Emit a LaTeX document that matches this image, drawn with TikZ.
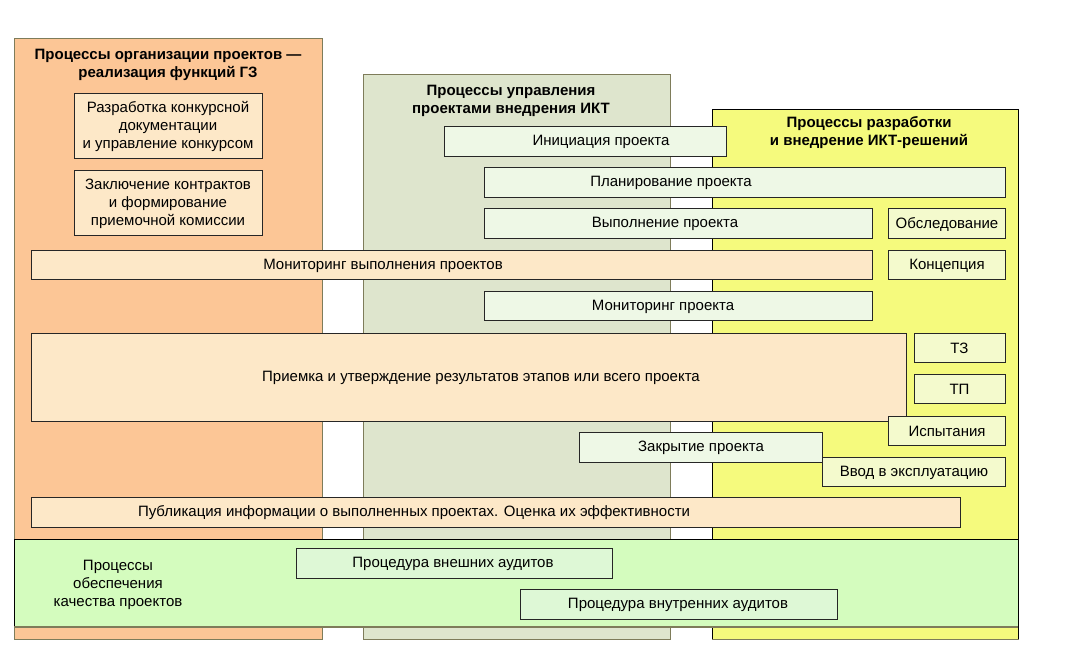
\documentclass[tikz,border=0pt]{standalone}
\usepackage{fontspec}
\setmainfont{Liberation Sans}
\definecolor{colorange}{HTML}{FCC696}
\definecolor{boxorange}{HTML}{FDE8C8}
\definecolor{colgreen}{HTML}{DEE5CD}
\definecolor{boxgreen}{HTML}{EEF8E6}
\definecolor{colyellow}{HTML}{F5FA7D}
\definecolor{boxyellow}{HTML}{F4FACD}
\definecolor{band}{HTML}{D4FCBE}
\definecolor{boxaudit}{HTML}{DEF8D6}
\definecolor{edge}{HTML}{7E7C5A}
\tikzset{
  column/.style={draw=edge,line width=1pt},
  procbox/.style={draw=black!85,line width=0.8pt},
  txt/.style={inner sep=0pt,align=center,yshift=-1pt,font=\fontsize{15}{18}\selectfont},
  title/.style={txt,font=\fontsize{15}{18}\selectfont\bfseries}
}
\begin{document}
\begin{tikzpicture}[x=1pt,y=-1pt]
\useasboundingbox (0,0) rectangle (1078,659);
% columns
\draw[column,fill=colorange] (14,38) rectangle (322,639);
\draw[column,fill=colgreen] (363,74) rectangle (670,639);
\draw[column,fill=colyellow] (712,109) rectangle (1018,639);
\draw[black,line width=0.8pt] (712,639)--(712,109)--(1018,109)--(1018,639);
% quality band
\draw[fill=band,draw=none] (14,539) rectangle (1018,627);
\draw[black,line width=0.8pt] (14,627)--(14,539)--(1018,539)--(1018,627);
\draw[edge,line width=1.5pt] (14,627)--(1018,627);
\node[title] (ttlorg) at (168,64) {Процессы организации проектов —\\реализация функций ГЗ};
\node[title] (ttlict) at (511,100) {Процессы управления\\проектами внедрения ИКТ};
\node[title] (ttldev) at (869,132) {Процессы разработки\\и внедрение ИКТ-решений};
\node[txt] (ttlqual) at (118,584) {Процессы\\обеспечения\\качества проектов};
% boxes
\draw[procbox,fill=boxorange] (74,93) rectangle (262,158);
\draw[procbox,fill=boxorange] (74,170) rectangle (262,235);
\draw[procbox,fill=boxgreen] (444,126) rectangle (726,156);
\draw[procbox,fill=boxgreen] (484,167) rectangle (1005,197);
\draw[procbox,fill=boxgreen] (484,208) rectangle (872,238);
\draw[procbox,fill=boxyellow] (888,208) rectangle (1005,238);
\draw[procbox,fill=boxorange] (31,250) rectangle (872,279);
\draw[procbox,fill=boxyellow] (888,250) rectangle (1005,279);
\draw[procbox,fill=boxgreen] (484,291) rectangle (872,320);
\draw[procbox,fill=boxorange] (31,333) rectangle (906,421);
\draw[procbox,fill=boxyellow] (914,333) rectangle (1005,362);
\draw[procbox,fill=boxyellow] (914,374) rectangle (1005,403);
\draw[procbox,fill=boxyellow] (888,416) rectangle (1005,445);
\draw[procbox,fill=boxgreen] (579,432) rectangle (822,462);
\draw[procbox,fill=boxyellow] (822,457) rectangle (1005,486);
\draw[procbox,fill=boxorange] (31,497) rectangle (960,527);
\draw[procbox,fill=boxaudit] (296,548) rectangle (612,578);
\draw[procbox,fill=boxaudit] (520,589) rectangle (837,619);
% labels
\node[txt] (tender) at (168,125.5) {Разработка конкурсной\\документации\\и управление конкурсом};
\node[txt] (contract) at (168,202.5) {Заключение контрактов\\и формирование\\приемочной комиссии};
\node[txt] (init) at (601,140.5) {Инициация проекта};
\node[txt] (plan) at (671,182) {Планирование проекта};
\node[txt] (exec) at (665,223) {Выполнение проекта};
\node[txt] (survey) at (947,223) {Обследование};
\node[txt] (monall) at (383,264.5) {Мониторинг выполнения проектов};
\node[txt] (concept) at (947,264.5) {Концепция};
\node[txt] (monproj) at (663,305.5) {Мониторинг проекта};
\node[txt] (accept) at (481,377) {Приемка и утверждение результатов этапов или всего проекта};
\node[txt] (spec) at (959.5,347.5) {ТЗ};
\node[txt] (design) at (959.5,388.5) {ТП};
\node[txt] (tests) at (947,430.5) {Испытания};
\node[txt] (close) at (701,447) {Закрытие проекта};
\node[txt] (launch) at (914,471.5) {Ввод в эксплуатацию};
\node[txt] (publish) at (414,512) {Публикация информации о выполненных проектах. Оценка их эффективности};
\node[txt] (extaudit) at (453,563) {Процедура внешних аудитов};
\node[txt] (intaudit) at (678,604) {Процедура внутренних аудитов};
\end{tikzpicture}
\end{document}
